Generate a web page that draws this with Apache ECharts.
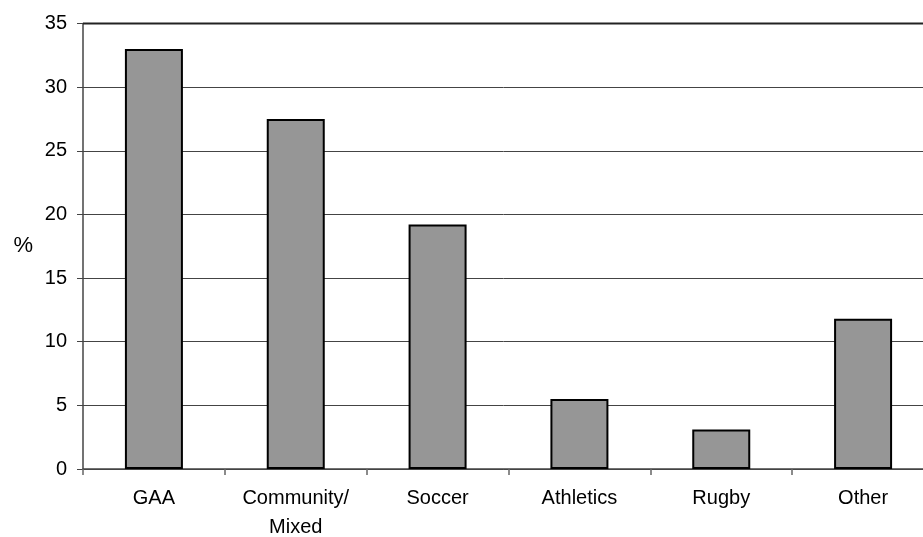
<!DOCTYPE html>
<html><head><meta charset="utf-8">
<script src="https://cdn.jsdelivr.net/npm/echarts@6/dist/echarts.min.js"></script>
<style>html,body{margin:0;padding:0;background:#fff}#c{width:923px;height:537px}</style>
</head><body><div id="c"></div>
<script>
const categories = ['GAA', 'Community/\nMixed', 'Soccer', 'Athletics', 'Rugby', 'Other'];
const values = [33.0, 27.5, 19.2, 5.5, 3.1, 11.8];
const yTicks = [0, 5, 10, 15, 20, 25, 30, 35];

const chart = echarts.init(document.getElementById('c'), null, {renderer: 'canvas'});
chart.setOption({
  animation: false,
  backgroundColor: '#fff',
  textStyle: {fontFamily: 'Liberation Sans, Arial, sans-serif'},
  grid: {left: 83, top: 23.5, width: 851, height: 445.5, containLabel: false, outerBoundsMode: 'none'},
  xAxis: {
    type: 'category',
    data: categories,
    axisLine: {lineStyle: {color: '#444', width: 1.5}},
    axisTick: {show: true, alignWithLabel: false, length: 6, lineStyle: {color: '#666', width: 1.5}},
    axisLabel: {color: '#000', fontSize: 20, margin: 15, lineHeight: 29, fontFamily: 'Liberation Sans', interval: 0},
    splitLine: {show: false}
  },
  yAxis: {
    type: 'value',
    min: yTicks[0], max: yTicks[yTicks.length - 1], interval: 5,
    name: '%', nameLocation: 'middle', nameRotate: 0, nameGap: 50,
    nameTextStyle: {color: '#000', fontSize: 22, fontFamily: 'Liberation Sans'},
    axisLine: {show: true, lineStyle: {color: '#444', width: 1.5}},
    axisTick: {show: true, length: 6, lineStyle: {color: '#444'}},
    axisLabel: {color: '#000', fontSize: 20, margin: 16, fontFamily: 'Liberation Sans'},
    splitLine: {show: true, lineStyle: {color: '#444', width: 1}}
  },
  series: [{
    type: 'bar',
    data: values,
    barWidth: 58,
    itemStyle: {color: '#969696', borderColor: '#000', borderWidth: 2}
  }],
  graphic: [{
    type: 'line', shape: {x1: 83, y1: 23.5, x2: 923, y2: 23.5},
    style: {stroke: '#222', lineWidth: 2}, z: 10
  }]
});
</script></body></html>
